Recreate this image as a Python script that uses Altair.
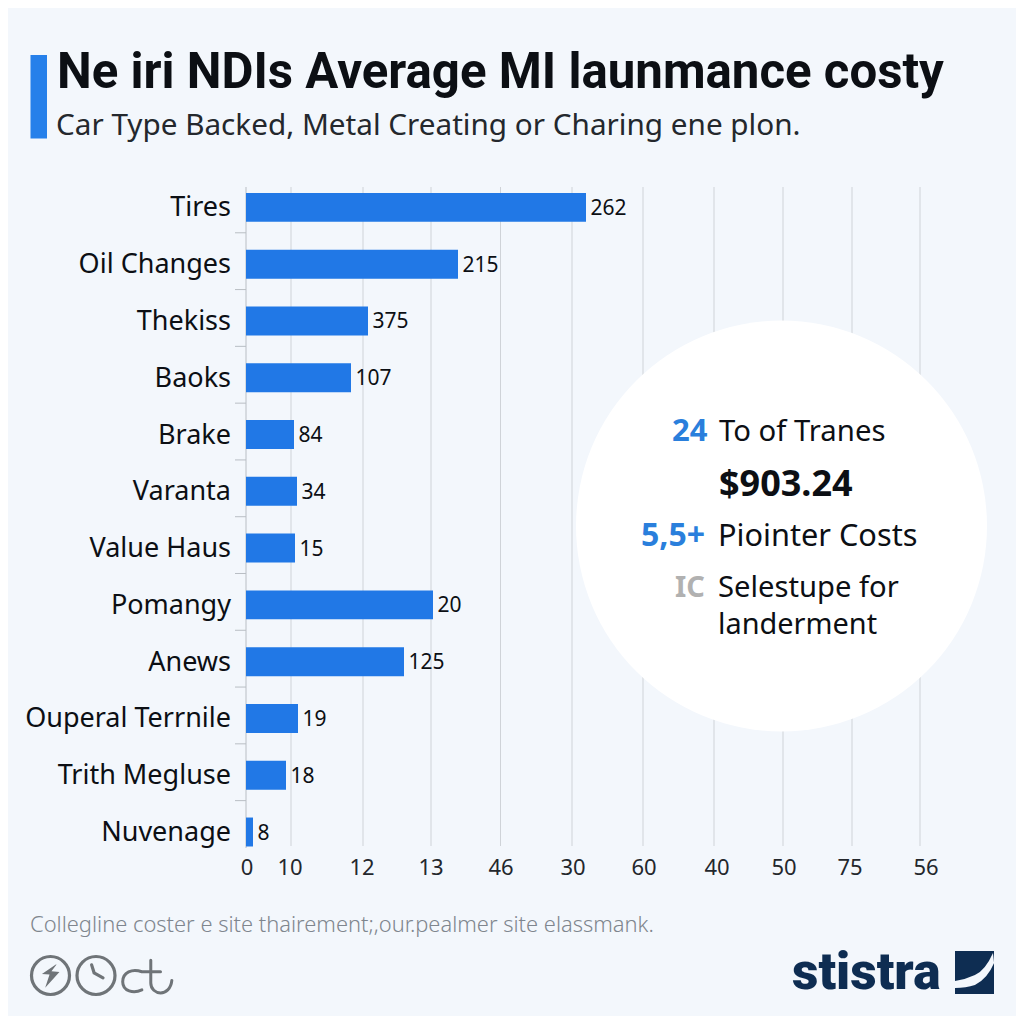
import altair as alt
import pandas as pd

categories = ["Tires", "Oil Changes", "Thekiss", "Baoks", "Brake", "Varanta", "Value Haus",
              "Pomangy", "Anews", "Ouperal Terrnile", "Trith Megluse", "Nuvenage"]
bar_lengths = [340, 212, 122, 105, 48, 51, 49, 187, 158, 52, 40, 7]
bar_labels = ["262", "215", "375", "107", "84", "34", "15", "20", "125", "19", "18", "8"]
grid_values = [45, 117, 185, 254.5, 326, 397, 468, 537, 606, 674]
tick_values = [1, 44, 116, 185, 255, 327, 398, 471, 538, 604, 680]
tick_labels = ["0", "10", "12", "13", "46", "30", "60", "40", "50", "75", "56"]

BLUE = "#2178e6"
INK = "#0c0f14"
BG = "#f3f7fc"
GRID = "#cfd3d8"
ICON = "#6f7478"
NAVY = "#0e2d52"
FONT = "Noto Sans"

OFF = 8  # page margin: page px -> chart px
X = alt.Scale(domain=[0, 674], range=[238, 912])
Y = alt.Scale(domain=categories, range=[171, 852.4], paddingInner=0.49, paddingOuter=0.245)

df = pd.DataFrame({"cat": categories, "len": bar_lengths, "lab": bar_labels, "zero": [0] * len(categories)})
ticks_df = pd.DataFrame({"v": tick_values, "t": tick_labels})
grid_df = pd.DataFrame({"v": grid_values})
one = pd.DataFrame({"a": [0]})

x_enc = alt.X("v:Q", scale=X, axis=None)
y_enc = alt.Y("cat:N", scale=Y, axis=None)


def note(text, x, y, size, color=INK, weight="normal", align="left", font=FONT):
    return alt.Chart(one).mark_text(
        align=align, baseline="alphabetic", fontSize=size, fontWeight=weight, font=font, color=color
    ).encode(x=alt.value(x - OFF), y=alt.value(y - OFF), text=alt.value(text))


def symbol(path, x, y, r, fill=None, stroke=None, sw=1):
    kw = dict(shape=path, size=(2 * r) ** 2, opacity=1)
    if fill:
        kw.update(filled=True, fill=fill, strokeWidth=0)
    else:
        kw.update(filled=False, stroke=stroke, strokeWidth=sw, strokeCap="round")
    return alt.Chart(one).mark_point(**kw).encode(x=alt.value(x - OFF), y=alt.value(y - OFF))


def box(x0, y0, x1, y1, color):
    return alt.Chart(one).mark_rect(color=color).encode(
        x=alt.value(x0 - OFF), x2=alt.value(x1 - OFF), y=alt.value(y0 - OFF), y2=alt.value(y1 - OFF)
    )


grid = alt.Chart(grid_df).mark_rule(color=GRID, strokeWidth=1).encode(
    x=x_enc, y=alt.value(187 - OFF), y2=alt.value(846 - OFF))
axis_line = alt.Chart(one).mark_rule(color="#b9bec4", strokeWidth=1).encode(
    x=alt.value(246 - OFF), y=alt.value(187 - OFF), y2=alt.value(848 - OFF))
cat_ticks = alt.Chart(df.iloc[:-1]).mark_rule(color="#b9bec4", strokeWidth=1, yOffset=25.4).encode(
    y=y_enc, x=alt.value(235 - OFF), x2=alt.value(246 - OFF))
bars = alt.Chart(df).mark_bar(color=BLUE).encode(
    x=alt.X("len:Q", scale=X, axis=None), y=y_enc)
bar_text = alt.Chart(df).mark_text(align="left", baseline="middle", dx=4.5, dy=1.5, fontSize=21, font=FONT, color=INK).encode(
    x=alt.X("len:Q", scale=X, axis=None), y=y_enc, text="lab:N")
cat_text = alt.Chart(df).mark_text(align="right", baseline="middle", dx=-15, dy=1, fontSize=27, font=FONT, color=INK).encode(
    x=alt.X("zero:Q", scale=X, axis=None), y=y_enc, text="cat:N")
tick_text = alt.Chart(ticks_df).mark_text(align="center", baseline="alphabetic", fontSize=22, font=FONT, color="#23272c").encode(
    x=x_enc, y=alt.value(875 - OFF), text="t:N")

circle = alt.Chart(one).mark_point(shape="circle", size=411 ** 2, filled=True, fill="#ffffff", opacity=1, strokeWidth=0).encode(
    x=alt.value(781.5 - OFF), y=alt.value(526 - OFF))

CIRCLE = "M -1 0 A 1 1 0 1 0 1 0 A 1 1 0 1 0 -1 0 Z"
BOLT = "M .28 -.58 L -.45 -.08 L -.05 -.05 L -.28 .65 L .47 -.18 L .05 -.22 L .32 -.58 Z"
HANDS = "M -.23 -.56 L -.1 -.14 L .37 .12"
CT = ("M -.19 -.12 C -.55 -.25 -.9 -.1 -.9 .25 C -.9 .6 -.5 .7 -.19 .55 "
      "M .14 -.55 L .14 .3 C .14 .75 .85 .85 .92 .2 M -.19 -.12 L .5 -.12")
SWOOP = "M .86 -.91 Q .5 -.1 .02 .12 Q -.4 .32 -.91 .40 L -.91 .72 Q -.4 .72 .02 .58 Q .6 .3 .91 -.44 Z"

layers = [
    grid, axis_line, cat_ticks, bars, bar_text, cat_text, tick_text, circle,
    box(30.5, 55, 47, 138.5, "#2680ea"),
    note("Ne iri NDIs Average MI launmance costy", 57, 88, 49.2, weight="bold", font="Roboto"),
    note("Car Type Backed, Metal Creating or Charing ene plon.", 56, 135, 29.7, color="#24282d"),
    note("24", 672, 441, 31, color="#2a7fdc", weight="bold"),
    note("To of Tranes", 719, 441, 29.3),
    note("$903.24", 719, 496, 36, weight="bold"),
    note("5,5+", 641, 546, 32, color="#2a7fdc", weight="bold"),
    note("Piointer Costs", 718, 546, 30.7),
    note("IC", 675, 597, 29, color="#b1b1b1", weight="bold"),
    note("Selestupe for", 718, 597, 29.2),
    note("landerment", 718, 634, 28.9),
    note("Collegline coster e site thairement;,our.pealmer site elassmank.", 30, 932, 21.9, color="#7f868e", weight=300),
    symbol(CIRCLE, 50.5, 975.5, 19, stroke=ICON, sw=3.2),
    symbol(BOLT, 50.5, 975.5, 19, fill=ICON),
    symbol(CIRCLE, 96, 975.5, 19, stroke=ICON, sw=3.2),
    symbol(HANDS, 96, 975.5, 19, stroke=ICON, sw=3.2),
    symbol(CT, 147, 975, 27, stroke=ICON, sw=3),
    note("stistra", 792, 989, 51.5, color=NAVY, weight=900, font="Roboto"),
    box(955, 951, 994, 994, NAVY),
    symbol(SWOOP, 974.5, 972.5, 21.5, fill=BG),
]

chart = alt.layer(*layers).properties(
    width=1008, height=1008, padding=0, background=BG,
    autosize=alt.AutoSizeParams(type="none"),
).configure_view(stroke=None)

chart.save("out.html", embed_options={"renderer": "svg", "actions": False})
